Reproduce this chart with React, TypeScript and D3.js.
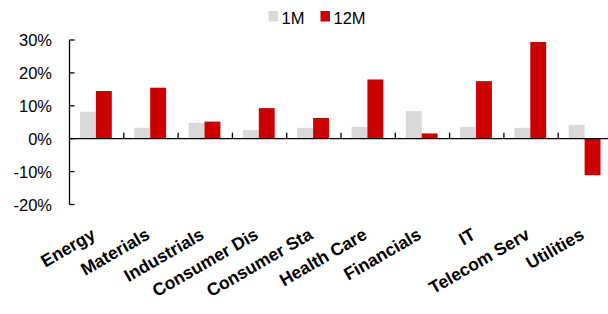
import { useEffect, useRef } from 'react';
import * as d3 from 'd3';

// Data
const categories = [
  'Energy', 'Materials', 'Industrials', 'Consumer Dis', 'Consumer Sta',
  'Health Care', 'Financials', 'IT', 'Telecom Serv', 'Utilities',
];
const series = ['1M', '12M'];
const oneMonth = [8.2, 3.3, 4.8, 2.6, 3.3, 3.6, 8.4, 3.6, 3.3, 4.2];
const twelveMonth = [14.5, 15.5, 5.2, 9.3, 6.3, 18.0, 1.6, 17.5, 29.4, -11.1];
const yTicks = [-20, -10, 0, 10, 20, 30];

const WIDTH = 608;
const HEIGHT = 314;
const COLORS = ['#d9d9d9', '#cc0000'];
const FONT = 'Arial, "Liberation Sans", sans-serif';

export default function App() {
  const svgRef = useRef<SVGSVGElement>(null);

  useEffect(() => {
    if (!svgRef.current) return;
    const svg = d3.select(svgRef.current);
    svg.selectAll('*').remove();

    const x = d3.scaleBand<string>().domain(categories).range([69.5, 612.5]);
    const inner = d3.scaleBand<string>().domain(series).range([10.5, x.bandwidth() - 12]);
    const y = d3.scaleLinear().domain([-20, 30]).range([204.5, 40]);

    const rows = categories.map((c, i) => ({ c, vals: [oneMonth[i], twelveMonth[i]] }));

    // bars
    const groups = svg.append('g')
      .selectAll('g')
      .data(rows)
      .enter()
      .append('g')
      .attr('transform', (d) => `translate(${x(d.c)},0)`);

    groups.selectAll('rect')
      .data((d) => d.vals.map((v, k) => ({ v, k })))
      .enter()
      .append('rect')
      .attr('x', (d) => inner(series[d.k])!)
      .attr('width', inner.bandwidth())
      .attr('y', (d) => y(Math.max(0, d.v)))
      .attr('height', (d) => Math.abs(y(d.v) - y(0)))
      .attr('fill', (d) => COLORS[d.k]);

    // y axis
    svg.append('line')
      .attr('x1', 69.5).attr('x2', 69.5)
      .attr('y1', y(30)).attr('y2', y(-20))
      .attr('stroke', '#000').attr('stroke-width', 1.3);

    yTicks.forEach((t) => {
      svg.append('line')
        .attr('x1', 69.5).attr('x2', 74.5)
        .attr('y1', y(t)).attr('y2', y(t))
        .attr('stroke', '#000').attr('stroke-width', 1.3);
      svg.append('text')
        .attr('x', 52)
        .attr('y', y(t) + 6)
        .attr('text-anchor', 'end')
        .attr('font-family', FONT)
        .attr('font-size', '16.5px')
        .attr('fill', '#000')
        .text(`${t}%`);
    });

    // x axis at zero
    svg.append('line')
      .attr('x1', 69.5).attr('x2', 612.5)
      .attr('y1', y(0)).attr('y2', y(0))
      .attr('stroke', '#000').attr('stroke-width', 1.3);

    categories.slice(1).forEach((c) => {
      svg.append('line')
        .attr('x1', x(c)!).attr('x2', x(c)!)
        .attr('y1', y(0)).attr('y2', y(0) - 6)
        .attr('stroke', '#000').attr('stroke-width', 1.3);
    });

    // category labels
    categories.forEach((c) => {
      const cx = x(c)! + x.bandwidth() / 2;
      svg.append('text')
        .attr('transform', `translate(${cx},238) rotate(-30)`)
        .attr('text-anchor', 'end')
        .attr('font-family', FONT)
        .attr('font-weight', 'bold')
        .attr('font-size', '17.5px')
        .attr('fill', '#000')
        .text(c);
    });

    // legend
    const legendX = [268.5, 320.5];
    series.forEach((s, k) => {
      svg.append('rect')
        .attr('x', legendX[k]).attr('y', 11)
        .attr('width', 9.5).attr('height', 10.5)
        .attr('fill', COLORS[k]);
      svg.append('text')
        .attr('x', legendX[k] + 13)
        .attr('y', 23.5)
        .attr('font-family', FONT)
        .attr('font-size', '16.5px')
        .attr('fill', '#000')
        .text(s);
    });
  }, []);

  return (
    <div style={{ position: 'absolute', left: 0, top: 0, background: '#fff' }}>
      <svg ref={svgRef} width={WIDTH} height={HEIGHT} style={{ display: 'block' }} />
    </div>
  );
}
